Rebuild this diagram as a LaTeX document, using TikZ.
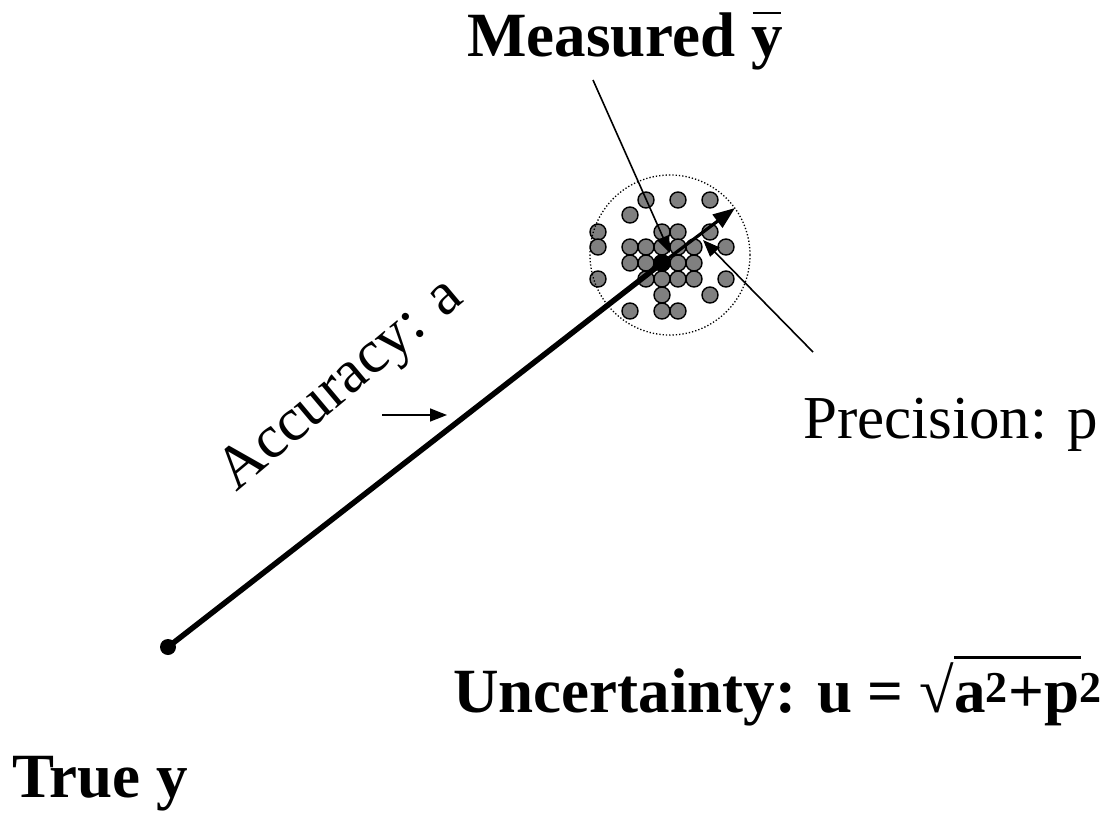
\documentclass[tikz,border=0pt]{standalone}
\usepackage{fontspec}
\setmainfont{Liberation Serif}
\usetikzlibrary{arrows.meta}
\begin{document}
\begin{tikzpicture}[x=1pt,y=-1pt,
  sample/.style={circle,draw=black,line width=1.4pt,fill=black!50,minimum size=16pt,inner sep=0pt},
  bigtxt/.style={font=\fontsize{63}{70}\selectfont\bfseries,inner sep=0pt},
  regtxt/.style={font=\fontsize{61}{70}\selectfont,inner sep=0pt},
  pointer/.style={line width=1.6pt,-{Triangle[length=17pt,width=13pt]}},
  thickline/.style={line width=5.5pt}]
\useasboundingbox (0,0) rectangle (1109,812);
% sample dots
\foreach \px/\py [count=\i] in {646/200,678/200,710/200,630/215,598/232,662/232,678/232,710/232,
  598/247,630/247,646/247,662/247,678/247,694/247,726/247,
  630/263,646/263,678/263,694/263,
  598/279,646/279,662/279,678/279,694/279,726/279,
  662/295,710/295,630/311,662/311,678/311}
  \node[sample] (s\i) at (\px,\py) {};
% dotted circle
\node[circle,draw,dotted,line width=1.3pt,minimum size=160pt,inner sep=0pt] (ring) at (670,255) {};
% true and measured points
\node[circle,fill=black,minimum size=16pt,inner sep=0pt] (true) at (168,647) {};
\node[circle,fill=black,minimum size=18pt,inner sep=0pt] (meas) at (662,263) {};
\draw[thickline] (true.center) -- (meas.center);
\coordinate (ptip) at (735,208);
\draw[line width=3.2pt,-{Triangle[length=22pt,width=16pt]}] (meas.center) -- (ptip);
% labels
\node[bigtxt,anchor=base west] (mlabel) at (467,56) {Measured \rlap{\hspace{0.02em}\rule[0.66em]{0.46em}{2.2pt}}y};
\node[regtxt,anchor=base west] (plabel) at (803,438) {Precision: p};
\node[regtxt,rotate=40] (alabel) at (342,386) {Accuracy: a};
\node[bigtxt,anchor=base west] (tlabel) at (12,797) {True y};
\node[bigtxt,anchor=base west] (ulabel) at (453,712) {Uncertainty: u = \char"221A\rlap{\rule[0.84em]{2.02em}{2.6pt}}a\textsuperscript{2}+p\textsuperscript{2}};
% pointers
\coordinate (mfrom) at (593,80);
\coordinate (mto) at (670,253);
\draw[pointer] (mfrom) -- (mto);
\coordinate (pfrom) at (813,352);
\coordinate (pto) at (703,240);
\draw[pointer] (pfrom) -- (pto);
\coordinate (afrom) at (382,415);
\coordinate (ato) at (447,415);
\draw[pointer] (afrom) -- (ato);
\end{tikzpicture}
\end{document}
